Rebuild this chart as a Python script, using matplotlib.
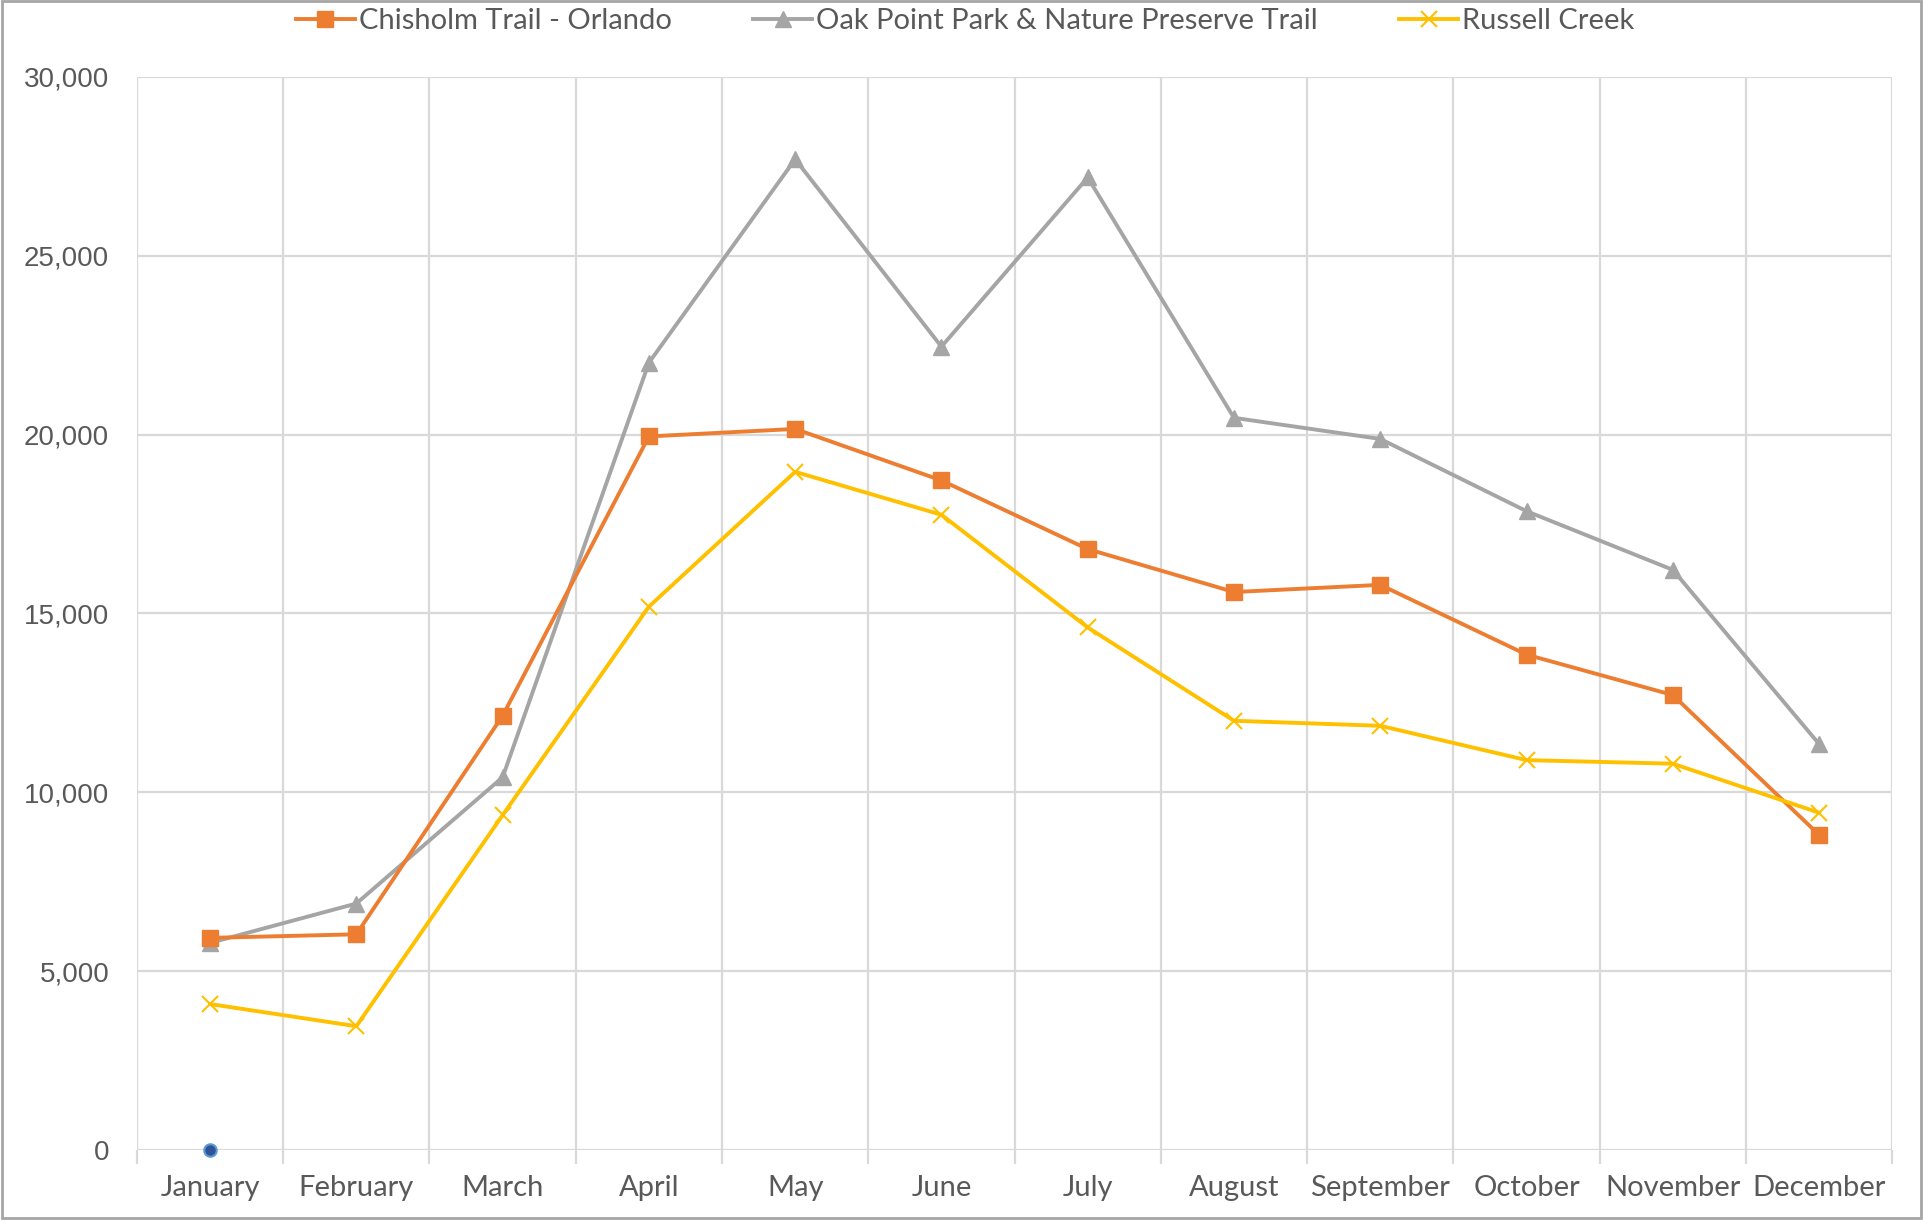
import numpy as np
import matplotlib.pyplot as plt
from matplotlib.ticker import FuncFormatter, FixedLocator
from matplotlib.patches import Rectangle

# ---- data ----
months = ['January', 'February', 'March', 'April', 'May', 'June', 'July',
          'August', 'September', 'October', 'November', 'December']
chisholm = [5930, 6030, 12140, 19950, 20160, 18720, 16800, 15600, 15800, 13850, 12720, 8810]
oak_point = [5790, 6890, 10420, 22010, 27700, 22460, 27190, 20470, 19880, 17860, 16220, 11350]
russell = [4080, 3460, 9360, 15190, 18960, 17760, 14610, 12000, 11860, 10900, 10800, 9430]
stray_x = [0]
stray_y = [0]

x = np.arange(len(months))

fig = plt.figure(figsize=(19.23, 12.20), dpi=100)
ax = fig.add_axes([0.0712, 0.0574, 0.9128, 0.8795])

ax.plot(x, chisholm, color='#ED7D31', lw=2.8, marker='s', ms=12,
        label='Chisholm Trail - Orlando', zorder=4)
ax.plot(x, oak_point, color='#A5A5A5', lw=2.8, marker='^', ms=12,
        label='Oak Point Park & Nature Preserve Trail', zorder=3)
ax.plot(x, russell, color='#FFC000', lw=2.8, marker='x', ms=12, mew=1.5,
        label='Russell Creek', zorder=5)
ax.plot(stray_x, stray_y, ls='none', marker='o', ms=9, color='#2F5597',
        mec='#5B9BD5', mew=1.5, zorder=6, clip_on=False)

ax.set_xlim(-0.5, 11.5)
ax.set_ylim(0, 30000)
ax.set_yticks(np.arange(0, 30001, 5000))
ax.yaxis.set_major_formatter(FuncFormatter(lambda v, p: f'{int(v):,}'))
ax.set_xticks(x)
ax.set_xticklabels(months)
ax.xaxis.set_minor_locator(FixedLocator(np.arange(-0.5, 12, 1)))

ax.grid(axis='y', color='#D9D9D9', lw=1.6)
ax.grid(axis='x', which='minor', color='#D9D9D9', lw=1.6)
ax.set_axisbelow(True)
for s in ax.spines.values():
    s.set_visible(False)

ax.tick_params(axis='x', which='major', length=0, pad=18,
               labelsize=21, labelcolor='#595959')
ax.tick_params(axis='x', which='minor', length=10, width=1.6, color='#D9D9D9')
ax.tick_params(axis='y', length=0, pad=20, labelsize=20, labelcolor='#595959')
for t in ax.get_xticklabels():
    t.set_fontfamily('Lato')
for t in ax.get_yticklabels():
    t.set_fontfamily('Liberation Sans')

leg = fig.legend(loc='center', bbox_to_anchor=(0.502, 0.983), ncol=3,
                 frameon=False, handlelength=2.0, handletextpad=0.15,
                 columnspacing=2.8, prop={'family': 'Lato', 'size': 21})
for t in leg.get_texts():
    t.set_color('#595959')

fig.patches.append(Rectangle((0.001, 0.002), 0.998, 0.997, transform=fig.transFigure,
                             fill=False, edgecolor='#A6A6A6', lw=2))

fig.savefig('out.png', dpi=100)
